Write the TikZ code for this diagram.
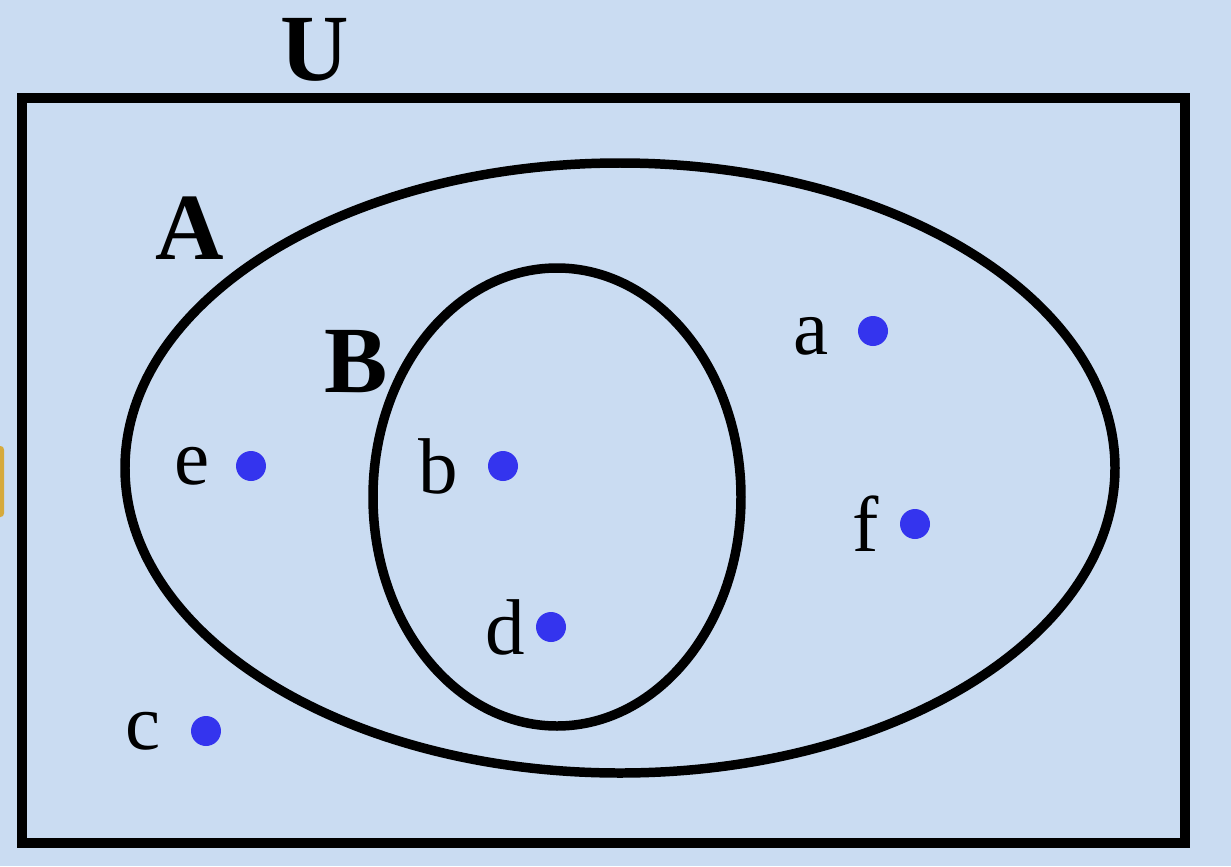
\documentclass[tikz,border=0pt]{standalone}
\usepackage{fontspec}
\setmainfont{Liberation Serif}
\usetikzlibrary{positioning}

\definecolor{paper}{RGB}{202,220,242}
\definecolor{dotblue}{RGB}{52,52,238}
\definecolor{tab}{RGB}{214,170,60}

\tikzset{
  setline/.style={line width=5.4pt},
  elem/.style={circle,fill=dotblue,inner sep=0pt,minimum size=0.6cm},
  elemlabel/.style={inner sep=0pt,font=\fontsize{45}{48}\selectfont},
  setname/.style={inner sep=0pt,font=\fontsize{54}{58}\selectfont\bfseries}
}

\begin{document}
\begin{tikzpicture}[x=0.02cm,y=-0.02cm]
  \fill[paper] (0,0) rectangle (1231,866);
  \useasboundingbox (0,0) rectangle (1231,866);
  \fill[tab,rounded corners=2pt] (-10,446) rectangle (4,517);

  % universe and the two sets
  \draw[setline] (22,98) rectangle (1185,843);
  \draw[setline] (620,468) ellipse [x radius=495, y radius=305];
  \draw[setline] (557,497) ellipse [x radius=184, y radius=229];

  \node[setname] (U) at (315,50) {U};
  \node[setname] (A) at (190,228) {A};
  \node[setname] (B) at (356,362) {B};

  % elements
  \node[elem] (a) at (873,331) {};
  \node[elem] (b) at (503,466) {};
  \node[elem] (c) at (206,731) {};
  \node[elem] (d) at (551,627) {};
  \node[elem] (e) at (251,466) {};
  \node[elem] (f) at (915,524) {};

  \node[elemlabel,left=0.58cm of a,yshift=-0.1cm] (la) {a};
  \node[elemlabel,left=0.58cm of b] (lb) {b};
  \node[elemlabel,left=0.6cm of c] (lc) {c};
  \node[elemlabel,left=0.2cm of d] (ld) {d};
  \node[elemlabel,left=0.52cm of e] (le) {e};
  \node[elemlabel,left=0.4cm of f] (lf) {f};
\end{tikzpicture}
\end{document}
